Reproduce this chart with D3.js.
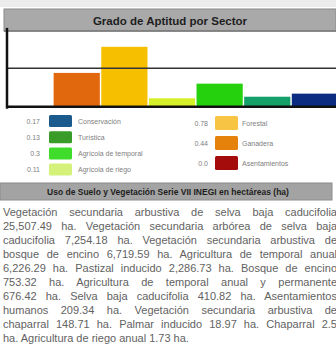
<!DOCTYPE html>
<html>
<head>
<meta charset="utf-8">
<script src="https://cdn.jsdelivr.net/npm/d3@7"></script>
<style>
  html, body { margin: 0; padding: 0; background: #fff; overflow: hidden; }
  #wrap { position: relative; width: 336px; height: 354px; }
  svg { position: absolute; left: 0; top: 0; }
  #texto { position: absolute; left: 3px; top: 205px; width: 334px;
           font-family: "Liberation Sans", Arial, sans-serif; font-size: 11px;
           line-height: 14px; color: #626262; }
  #texto div { white-space: nowrap; text-align: justify; text-align-last: justify; }
  #texto div.last { text-align-last: left; }
</style>
</head>
<body>
<div id="wrap"></div>
<script>
// Sectores en el orden del eje (de izquierda a derecha)
const sectores = ["Asentamientos", "Ganadera", "Forestal", "Agrícola de riego",
                  "Agrícola de temporal", "Turística", "Conservación"];
const aptitud = [0, 0.44, 0.78, 0.11, 0.3, 0.13, 0.17];
const aptitudTexto = ["0.0", "0.44", "0.78", "0.11", "0.3", "0.13", "0.17"];
const coloresBarra = ["#a00000", "#e2680e", "#f6bf00", "#d6f02a", "#25d00c", "#15a06a", "#0b2c80"];
const coloresLeyenda = ["#a40b0b", "#e5820c", "#f7c443", "#d4f27a", "#3fdc2c", "#3a9c28", "#1b5a8c"];

// Leyenda: columna izquierda y derecha (índices en los arreglos anteriores)
const leyendaIzq = [6, 5, 4, 3];
const leyendaDer = [2, 1, 0];

const titulo = "Grado de Aptitud por Sector";
const tituloUso = "Uso de Suelo y Vegetación Serie VII INEGI en hectáreas (ha)";
const lineasUso = [
  "Vegetación secundaria arbustiva de selva baja caducifolia",
  "25,507.49 ha. Vegetación secundaria arbórea de selva baja",
  "caducifolia 7,254.18 ha. Vegetación secundaria arbustiva de",
  "bosque de encino 6,719.59 ha. Agricultura de temporal anual",
  "6,226.29 ha. Pastizal inducido 2,286.73 ha. Bosque de encino",
  "753.32 ha. Agricultura de temporal anual y permanente",
  "676.42 ha. Selva baja caducifolia 410.82 ha. Asentamientos",
  "humanos 209.34 ha. Vegetación secundaria arbustiva de",
  "chaparral 148.71 ha. Palmar inducido 18.97 ha. Chaparral 2.5",
  "ha. Agricultura de riego anual 1.73 ha."
];

const W = 336, H = 354;
const wrap = d3.select("#wrap");
const svg = wrap.append("svg").attr("width", W).attr("height", H);

// franja superior
svg.append("rect").attr("x", 0).attr("y", 0).attr("width", W).attr("height", 7).attr("fill", "#ececec");

// encabezado del gráfico
svg.append("rect").attr("x", 4).attr("y", 9).attr("width", W - 4).attr("height", 22)
  .attr("fill", "#a9a9a9").attr("stroke", "#8a8a8a").attr("stroke-width", 1);
svg.append("line").attr("x1", 4).attr("x2", W).attr("y1", 31).attr("y2", 31)
  .attr("stroke", "#777").attr("stroke-width", 1.5);
svg.append("text").attr("x", 170).attr("y", 24.5).attr("text-anchor", "middle")
  .attr("font-family", "Liberation Sans, Arial, sans-serif").attr("font-weight", "bold")
  .attr("font-size", 11.5).attr("fill", "#1e1e1e").text(titulo);

// área de barras
const x = d3.scaleBand().domain(sectores).range([6, 338]).paddingInner(0.03).paddingOuter(0);
const y = d3.scaleLinear().domain([0, 1]).range([106.7, 29.9]);

svg.append("g").selectAll("rect").data(sectores).join("rect")
  .attr("x", d => x(d))
  .attr("width", x.bandwidth())
  .attr("y", (d, i) => y(aptitud[i]))
  .attr("height", (d, i) => y(0) - y(aptitud[i]))
  .attr("fill", (d, i) => coloresBarra[i]);

// línea de referencia en 0.5
svg.append("line").attr("x1", 7).attr("x2", W).attr("y1", y(0.5)).attr("y2", y(0.5))
  .attr("stroke", "#333").attr("stroke-width", 1.5);

// ejes
const ejeY = svg.append("g").attr("transform", "translate(7,0)")
  .call(d3.axisLeft(y).tickValues([]).tickSizeOuter(0));
ejeY.select(".domain").attr("stroke", "#111").attr("stroke-width", 2.5)
  .attr("d", `M0,${y(1) - 2}V${y(0) + 2}`);
const ejeX = svg.append("g").attr("transform", `translate(0,${y(0)})`)
  .call(d3.axisBottom(x).tickValues([]).tickSizeOuter(0));
ejeX.select(".domain").attr("stroke", "#111").attr("stroke-width", 2.5)
  .attr("d", `M6,0H${W}`);

// leyenda
function leyenda(indices, numX, swX, labX, y0, paso, swH) {
  const g = svg.append("g");
  const filas = g.selectAll("g").data(indices).join("g")
    .attr("transform", (d, k) => `translate(0,${y0 + k * paso})`);
  filas.append("rect").attr("x", swX).attr("y", -swH / 2).attr("width", 23).attr("height", swH)
    .attr("rx", 1.5).attr("fill", i => coloresLeyenda[i]);
  filas.append("text").attr("x", numX).attr("y", 2.5).attr("text-anchor", "end")
    .attr("font-family", "Liberation Sans, Arial, sans-serif").attr("font-size", 7)
    .attr("fill", "#808080").text(i => aptitudTexto[i]);
  filas.append("text").attr("x", labX).attr("y", 2.5)
    .attr("font-family", "Liberation Sans, Arial, sans-serif").attr("font-size", 7)
    .attr("fill", "#808080").text(i => sectores[i]);
}
leyenda(leyendaIzq, 40, 49, 78, 121, 16.2, 12);
leyenda(leyendaDer, 208, 215, 242, 123, 20, 14);

// encabezado del uso de suelo
svg.append("rect").attr("x", 0).attr("y", 183).attr("width", 332).attr("height", 17)
  .attr("fill", "#a3a3a3").attr("stroke", "#8c8c8c").attr("stroke-width", 1);
svg.append("text").attr("x", 168).attr("y", 194.5).attr("text-anchor", "middle")
  .attr("font-family", "Liberation Sans, Arial, sans-serif").attr("font-weight", "bold")
  .attr("font-size", 8.5).attr("fill", "#1e1e1e").text(tituloUso);

// párrafo justificado
wrap.append("div").attr("id", "texto").selectAll("div").data(lineasUso).join("div")
  .classed("last", (d, i) => i === lineasUso.length - 1)
  .text(d => d);
</script>
</body>
</html>
